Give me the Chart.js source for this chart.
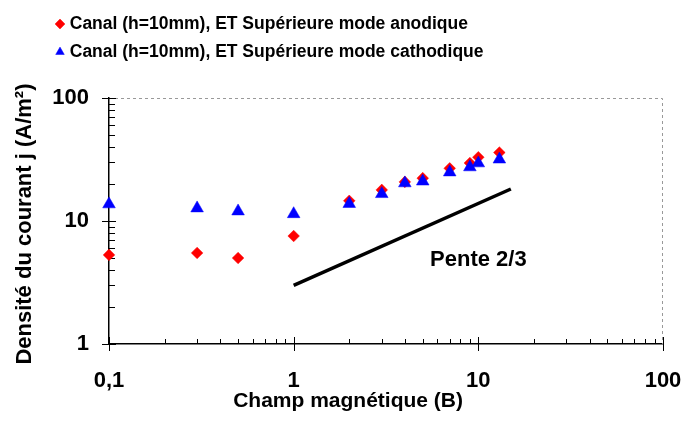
<!DOCTYPE html>
<html><head><meta charset="utf-8">
<script src="https://cdn.jsdelivr.net/npm/chart.js@4"></script>
<style>html,body{margin:0;padding:0;background:#fff;}canvas{display:block;}</style>
</head><body>
<canvas id="c" width="685" height="423"></canvas>
<script>
// ---- data ----
const fieldB = [0.1, 0.3, 0.5, 1, 2, 3, 4, 5, 7, 9, 10, 13];
const jAnodique = [5.3, 5.5, 5.0, 7.55, 14.6, 17.9, 20.8, 22.3, 26.8, 29.6, 33.0, 36.0];
const jCathodique = [13.7, 12.7, 12.0, 11.4, 13.8, 16.6, 20.3, 21.0, 24.9, 27.4, 29.5, 31.7];
const penteB = [1, 15];
const penteJ = [3, 18.2];
const seriesLabels = ['Canal (h=10mm), ET Supérieure mode anodique', 'Canal (h=10mm), ET Supérieure mode cathodique'];
const xMajor = [0.1, 1, 10, 100];
const xMajorLabels = ['0,1', '1', '10', '100'];
const xMinor = [0.2,0.3,0.4,0.5,0.6,0.7,0.8,0.9,2,3,4,5,6,7,8,9,20,30,40,50,60,70,80,90];
const yMajor = [1, 10, 100];
const yMajorLabels = ['1', '10', '100'];
const yMinor = [2,3,4,5,6,7,8,9,20,30,40,50,60,70,80,90];
const xTitle = 'Champ magnétique (B)';
const yTitle = 'Densité du courant j (A/m²)';
const penteText = 'Pente 2/3';

// ---- fonts ----
const FAM = '"Liberation Sans", Arial, sans-serif';
function hasFont(name) {
  const c = document.createElement('canvas').getContext('2d');
  c.font = 'bold 40px monospace';
  const a = c.measureText('Canal Supérieure mmm').width;
  c.font = 'bold 40px "' + name + '", monospace';
  const b = c.measureText('Canal Supérieure mmm').width;
  return Math.abs(a - b) > 0.5;
}
const narrow = hasFont('Liberation Sans Narrow');
const legendFont = narrow ? {family: '"Liberation Sans Narrow", "Liberation Sans", Arial', size: 21, weight: 'bold'}
                          : {family: FAM, size: 17.5, weight: 'bold'};
const legendPad = 28 - legendFont.size;

Chart.defaults.font.family = FAM;
Chart.defaults.color = '#000';

const pts = (xs, ys) => xs.map((v, i) => ({x: v, y: ys[i]}));
const buildTicks = (maj, min) => maj.concat(min).sort((a, b) => a - b).map(v => ({value: v}));

const axisDecor = {
  id: 'axisDecor',
  afterLayout(chart) {
    const lg = chart.legend;
    if (!lg) return;
    const dx = 59 - (lg.left + legendPad);
    lg.left += dx; lg.right += dx;
    const dy = (24 - legendFont.size / 2 - legendPad) - lg.top;
    lg.top += dy; lg.bottom += dy;
  },
  beforeDatasetsDraw(chart) {
    const {ctx, chartArea: a, scales: {x, y}} = chart;
    ctx.save();
    // dotted plot frame (top, right)
    ctx.strokeStyle = '#999'; ctx.lineWidth = 1; ctx.setLineDash([3, 3]);
    ctx.beginPath();
    ctx.moveTo(a.left, Math.round(a.top) + 0.5);
    ctx.lineTo(Math.round(a.right) - 0.5, Math.round(a.top) + 0.5);
    ctx.lineTo(Math.round(a.right) - 0.5, a.bottom);
    ctx.stroke();
    ctx.setLineDash([]);
    // tick marks
    ctx.strokeStyle = '#000'; ctx.lineWidth = 1;
    x.ticks.forEach(t => {
      const maj = xMajor.includes(t.value);
      const px = Math.round(x.getPixelForValue(t.value)) + 0.5;
      ctx.beginPath();
      ctx.moveTo(px, a.bottom + (maj ? 7 : 0));
      ctx.lineTo(px, a.bottom - (maj ? 7 : 5));
      ctx.stroke();
    });
    y.ticks.forEach(t => {
      const maj = yMajor.includes(t.value);
      const py = Math.round(y.getPixelForValue(t.value)) + 0.5;
      ctx.beginPath();
      ctx.moveTo(a.left - (maj ? 7 : 0), py);
      ctx.lineTo(a.left + (maj ? 7 : 6), py);
      ctx.stroke();
    });
    ctx.restore();
  },
  afterDatasetsDraw(chart, args, opts) {
    const {ctx, scales: {x, y}} = chart;
    ctx.save();
    ctx.font = 'bold 22px ' + FAM;
    ctx.fillStyle = '#000';
    ctx.textAlign = 'center';
    ctx.textBaseline = 'middle';
    ctx.fillText(opts.text, x.getPixelForValue(opts.x), y.getPixelForValue(opts.y));
    ctx.restore();
  }
};

new Chart(document.getElementById('c'), {
  type: 'scatter',
  data: {
    datasets: [
      {
        label: seriesLabels[0], data: pts(fieldB, jAnodique),
        pointStyle: 'rectRot', pointRadius: 5.8, pointBorderWidth: 0.5,
        backgroundColor: '#ff0000', borderColor: '#ff0000', order: 2, clip: false
      },
      {
        label: seriesLabels[1], data: pts(fieldB, jCathodique),
        pointStyle: 'triangle', pointRadius: 7.3, pointBorderWidth: 0.5,
        backgroundColor: '#0000ff', borderColor: '#0000ff', order: 1, clip: false
      },
      {
        label: 'pente', data: pts(penteB, penteJ), showLine: true,
        borderColor: '#000', borderWidth: 3.5, pointRadius: 0, order: 3, clip: false
      }
    ]
  },
  options: {
    responsive: false, animation: false, events: [],
    layout: {padding: {top: 32, right: 0, bottom: 0, left: 0}},
    plugins: {
      tooltip: {enabled: false},
      legend: {
        position: 'top', align: 'start',
        labels: {
          usePointStyle: true, boxWidth: 2, boxHeight: 7, padding: legendPad,
          font: legendFont, color: '#000',
          filter: item => item.datasetIndex < 2,
          sort: (a, b) => a.datasetIndex - b.datasetIndex
        }
      },
      axisDecor: {text: penteText, x: 10, y: 4.85}
    },
    scales: {
      x: {
        type: 'logarithmic', position: 'bottom', min: 0.1, max: 100,
        afterBuildTicks: s => { s.ticks = buildTicks(xMajor, xMinor); },
        afterFit: s => { s.height = 79; s.paddingRight = 22; s.paddingLeft = 0; },
        grid: {display: false, drawTicks: false},
        border: {display: true, color: '#000', width: 1.5},
        ticks: {
          autoSkip: false, maxRotation: 0, minRotation: 0, padding: 24,
          font: {size: 22, weight: 'bold'}, color: '#000',
          callback: v => { const i = xMajor.indexOf(v); return i >= 0 ? xMajorLabels[i] : ''; }
        },
        title: {
          display: true, text: xTitle + '             ', color: '#000',
          font: {size: 21, weight: 'bold'}, padding: {top: 0, bottom: 9}
        }
      },
      y: {
        type: 'logarithmic', position: 'left', min: 1, max: 100,
        afterBuildTicks: s => { s.ticks = buildTicks(yMajor, yMinor); },
        afterFit: s => { s.width = 109; },
        grid: {display: false, drawTicks: false},
        border: {display: true, color: '#000', width: 1.5},
        ticks: {
          autoSkip: false, padding: 20,
          font: {size: 22, weight: 'bold'}, color: '#000',
          callback: v => { const i = yMajor.indexOf(v); return i >= 0 ? yMajorLabels[i] : ''; }
        },
        title: {
          display: true, text: yTitle + ' ', color: '#000',
          font: {size: 22, weight: 'bold'}, padding: {top: 12, bottom: 0}
        }
      }
    }
  },
  plugins: [axisDecor]
});
</script>
</body></html>
